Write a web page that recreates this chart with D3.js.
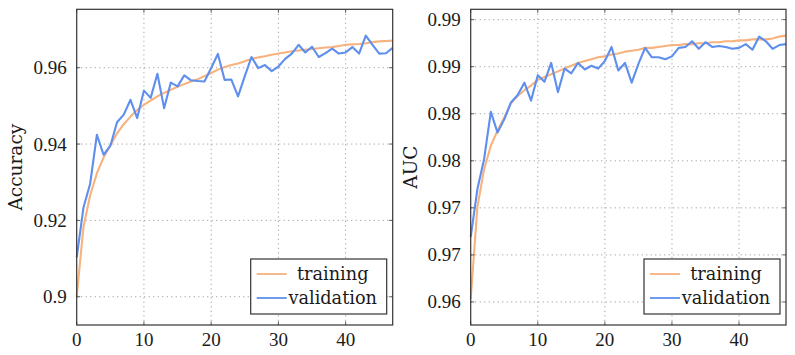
<!DOCTYPE html>
<html>
<head>
<meta charset="utf-8">
<script src="https://cdn.jsdelivr.net/npm/d3@7/dist/d3.min.js"></script>
<style>
  html, body { margin: 0; padding: 0; background: #fff; }
  svg { display: block; }
  .tick-label { font-family: "Liberation Serif", "Times New Roman", serif; font-size: 19px; fill: #1a1a1a; }
  .lbl { font-family: "DejaVu Serif", "Liberation Serif", serif; fill: #1a1a1a; }
</style>
</head>
<body>
<svg id="chart" width="795" height="355"></svg>
<script>
// ---------- data ----------
const epochs = d3.range(0, 48);
const xTicks = [0, 10, 20, 30, 40];

const accTrain = [0.9000, 0.9182, 0.9266, 0.9323, 0.9365, 0.9397, 0.9428, 0.9452, 0.9472, 0.9489,
  0.9503, 0.9514, 0.9525, 0.9534, 0.9542, 0.9550, 0.9557, 0.9564, 0.9570, 0.9578,
  0.9586, 0.9595, 0.9602, 0.9607, 0.9611, 0.9617, 0.9623, 0.9627, 0.9630, 0.9634,
  0.9637, 0.9640, 0.9643, 0.9645, 0.9647, 0.9649, 0.9651, 0.9653, 0.9654, 0.9657,
  0.9660, 0.9661, 0.9662, 0.9664, 0.9667, 0.9669, 0.9670, 0.9671];
const accVal = [0.9103, 0.9233, 0.9296, 0.9424, 0.9372, 0.9395, 0.9457, 0.9477, 0.9516, 0.9468,
  0.9540, 0.9521, 0.9584, 0.9494, 0.9561, 0.9551, 0.9580, 0.9567, 0.9565, 0.9564,
  0.9599, 0.9636, 0.9568, 0.9569, 0.9525, 0.9578, 0.9628, 0.9599, 0.9607, 0.9591,
  0.9603, 0.9623, 0.9637, 0.9660, 0.9640, 0.9655, 0.9628, 0.9638, 0.9650, 0.9637,
  0.9640, 0.9654, 0.9637, 0.9684, 0.9660, 0.9637, 0.9638, 0.9652];
const accTicks = [0.9, 0.92, 0.94, 0.96];
const accTickLabels = ["0.9", "0.92", "0.94", "0.96"];

const aucTrain = [0.9603, 0.9701, 0.9741, 0.9766, 0.9782, 0.9796, 0.9811, 0.9819, 0.9825, 0.9830,
  0.9836, 0.9839, 0.9842, 0.9845, 0.9848, 0.9851, 0.9854, 0.9856, 0.9858, 0.9860,
  0.9861, 0.9863, 0.9864, 0.9866, 0.9867, 0.9868, 0.9870, 0.9870, 0.9871, 0.9872,
  0.9873, 0.9873, 0.9874, 0.9874, 0.9875, 0.9875, 0.9876, 0.9876, 0.9877, 0.9877,
  0.9878, 0.9878, 0.9879, 0.9879, 0.9879, 0.9880, 0.9882, 0.9883];
const aucVal = [0.9669, 0.9720, 0.9752, 0.9802, 0.9780, 0.9794, 0.9812, 0.9820, 0.9833, 0.9814,
  0.9841, 0.9834, 0.9854, 0.9823, 0.9848, 0.9843, 0.9854, 0.9847, 0.9851, 0.9848,
  0.9856, 0.9871, 0.9846, 0.9854, 0.9833, 0.9853, 0.9870, 0.9860, 0.9860, 0.9858,
  0.9861, 0.9870, 0.9871, 0.9877, 0.9869, 0.9876, 0.9871, 0.9872, 0.9871, 0.9869,
  0.9870, 0.9874, 0.9868, 0.9882, 0.9877, 0.9869, 0.9873, 0.9874];
const aucTicks = [0.96, 0.965, 0.97, 0.975, 0.98, 0.985, 0.99];
const aucTickLabels = ["0.96", "0.97", "0.97", "0.98", "0.98", "0.99", "0.99"];

const seriesNames = ["training", "validation"];
const seriesColors = ["#F7B27E", "#5E8FEE"];

// ---------- drawing ----------
const svg = d3.select("#chart");

function panel(cfg) {
  const x = d3.scaleLinear().domain([0, 47]).range([cfg.left, cfg.right]);
  const y = d3.scaleLinear().domain(cfg.yDomain).range([cfg.bottom, cfg.top]);
  const g = svg.append("g");

  // grid
  g.append("g").selectAll("line").data(xTicks.filter(d => d > 0)).join("line")
    .attr("x1", d => x(d)).attr("x2", d => x(d))
    .attr("y1", cfg.top).attr("y2", cfg.bottom)
    .attr("stroke", "#8c8c8c").attr("stroke-width", 0.9).attr("stroke-dasharray", "1.1 3.4");
  g.append("g").selectAll("line").data(cfg.ticks).join("line")
    .attr("x1", cfg.left).attr("x2", cfg.right)
    .attr("y1", d => y(d)).attr("y2", d => y(d))
    .attr("stroke", "#8c8c8c").attr("stroke-width", 0.9).attr("stroke-dasharray", "1.1 3.4");

  // lines
  const line = d3.line().x((d, i) => x(epochs[i])).y(d => y(d));
  [cfg.train, cfg.val].forEach((s, k) => {
    g.append("path").datum(s).attr("d", line)
      .attr("fill", "none").attr("stroke", seriesColors[k])
      .attr("stroke-width", 2.1).attr("stroke-linejoin", "round");
  });

  // frame
  g.append("rect").attr("x", cfg.left).attr("y", cfg.top)
    .attr("width", cfg.right - cfg.left).attr("height", cfg.bottom - cfg.top)
    .attr("fill", "none").attr("stroke", "#333").attr("stroke-width", 1.2);

  // tick marks (inside, mirrored)
  const tl = 3.5;
  [cfg.bottom, cfg.top].forEach((yy, k) => {
    g.append("g").selectAll("line").data(xTicks).join("line")
      .attr("x1", d => x(d)).attr("x2", d => x(d))
      .attr("y1", yy).attr("y2", k === 0 ? yy - tl : yy + tl)
      .attr("stroke", "#333").attr("stroke-width", 0.8);
  });
  [cfg.left, cfg.right].forEach((xx, k) => {
    g.append("g").selectAll("line").data(cfg.ticks).join("line")
      .attr("x1", xx).attr("x2", k === 0 ? xx + tl : xx - tl)
      .attr("y1", d => y(d)).attr("y2", d => y(d))
      .attr("stroke", "#333").attr("stroke-width", 0.8);
  });

  // tick labels
  g.append("g").selectAll("text").data(xTicks).join("text")
    .attr("class", "tick-label")
    .attr("x", d => x(d)).attr("y", cfg.bottom + 21)
    .attr("text-anchor", "middle")
    .text(d => d);
  g.append("g").selectAll("text").data(cfg.ticks).join("text")
    .attr("class", "tick-label")
    .attr("x", cfg.left - 10).attr("y", d => y(d))
    .attr("dy", "0.34em")
    .attr("text-anchor", "end")
    .text((d, i) => cfg.tickLabels[i]);

  // y label
  g.append("text")
    .attr("class", "lbl")
    .attr("transform", `translate(${cfg.labelX},${(cfg.top + cfg.bottom) / 2}) rotate(-90)`)
    .attr("text-anchor", "middle")
    .style("font-size", "18.5px")
    .text(cfg.label);

  // legend
  const lw = 136, lh = 55;
  const lx = cfg.right - 6 - lw, ly = cfg.bottom - 11 - lh;
  const lg = g.append("g").attr("transform", `translate(${lx},${ly})`);
  lg.append("rect").attr("width", lw).attr("height", lh)
    .attr("fill", "#fff").attr("stroke", "#333").attr("stroke-width", 1.2);
  seriesNames.forEach((n, k) => {
    const yy = 15 + k * 24;
    lg.append("line").attr("x1", 6).attr("x2", 36).attr("y1", yy).attr("y2", yy)
      .attr("stroke", seriesColors[k]).attr("stroke-width", 1.8);
    lg.append("text").attr("class", "lbl").attr("x", 82).attr("y", yy + 6)
      .attr("text-anchor", "middle")
      .style("font-size", "17.7px")
      .text(n);
  });
}

panel({
  left: 76.7, right: 392.7, top: 9.3, bottom: 325,
  yDomain: [0.8926, 0.9753], ticks: accTicks, tickLabels: accTickLabels,
  train: accTrain, val: accVal, label: "Accuracy", labelX: 22
});
panel({
  left: 470.7, right: 786, top: 9.3, bottom: 325,
  yDomain: [0.95755, 0.9911], ticks: aucTicks, tickLabels: aucTickLabels,
  train: aucTrain, val: aucVal, label: "AUC", labelX: 416.5
});
</script>
</body>
</html>
